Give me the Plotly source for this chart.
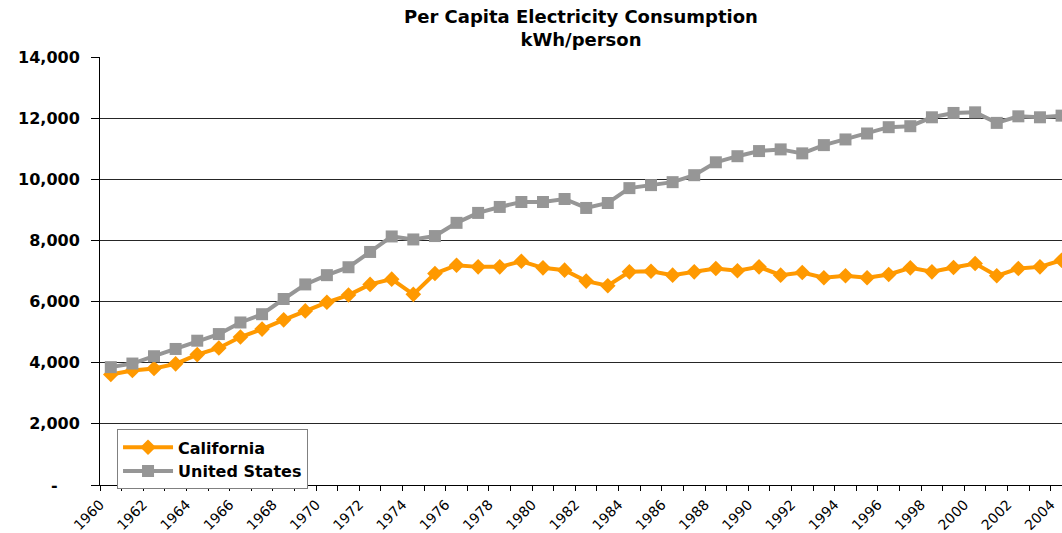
import plotly.graph_objects as go

# ---- data ----
years = list(range(1960, 2005))

california = [3615, 3745, 3810, 3963, 4265, 4482, 4840, 5100, 5402, 5695,
              5976, 6214, 6561, 6734, 6236, 6918, 7189, 7135, 7135, 7319,
              7103, 7027, 6669, 6518, 6973, 6994, 6864, 6973, 7081, 7010,
              7135, 6864, 6951, 6778, 6843, 6778, 6886, 7103, 6973, 7113,
              7243, 6843, 7081, 7135, 7351]

united_states = [3855, 3973, 4212, 4450, 4720, 4937, 5316, 5587, 6084, 6561,
                 6864, 7123, 7623, 8130, 8032, 8143, 8575, 8900, 9095, 9257,
                 9257, 9355, 9062, 9224, 9711, 9809, 9906, 10134, 10556, 10755,
                 10923, 10978, 10848, 11118, 11303, 11498, 11704, 11736, 12028, 12170,
                 12190, 11845, 12060, 12028, 12082]

y_ticks = [0, 2000, 4000, 6000, 8000, 10000, 12000, 14000]
y_ticktext = ["-\u00a0\u00a0\u00a0\u00a0", "2,000", "4,000", "6,000", "8,000",
              "10,000", "12,000", "14,000"]

x_ticks = list(range(1960, 2006))
x_ticktext = [str(y) if y % 2 == 0 else "" for y in x_ticks]

title_text = "Per Capita Electricity Consumption<br>kWh/person"

# categories sit midway between year tick marks (Excel category axis)
x_pos = [y + 0.5 for y in years]

FONT = "DejaVu Sans"
ORANGE = "#FF9900"
GRAY = "#969696"

fig = go.Figure()
fig.add_trace(go.Scatter(
    x=x_pos, y=california, name="California", mode="lines+markers",
    line=dict(color=ORANGE, width=4),
    marker=dict(symbol="diamond", size=12, color=ORANGE, line=dict(width=0)),
))
fig.add_trace(go.Scatter(
    x=x_pos, y=united_states, name="United States", mode="lines+markers",
    line=dict(color=GRAY, width=4),
    marker=dict(symbol="square", size=12, color=GRAY, line=dict(width=0)),
))

fig.update_layout(
    width=1062, height=533,
    margin=dict(l=100, r=0, t=57, b=45),
    paper_bgcolor="white", plot_bgcolor="white",
    font=dict(family=FONT, color="black"),
    showlegend=True,
    legend=dict(x=0.0177, y=0.13, xanchor="left", yanchor="top",
                bgcolor="white", bordercolor="#808080", borderwidth=1,
                font=dict(family=FONT, size=16, weight="bold", color="black"),
                tracegroupgap=0, itemwidth=50),
    annotations=[dict(
        text=title_text, xref="paper", yref="paper", x=0.5, y=1.124,
        xanchor="center", yanchor="top", showarrow=False, align="center",
        font=dict(family=FONT, size=18, weight="bold", color="black"),
    )],
)

fig.update_xaxes(
    range=[1960, 2004.52],
    tickmode="array", tickvals=x_ticks, ticktext=x_ticktext,
    tickangle=-45, tickfont=dict(family=FONT, size=14, color="black"),
    ticks="outside", ticklen=5, tickcolor="black", tickwidth=1,
    showline=True, linecolor="black", linewidth=1,
    showgrid=False, zeroline=False,
)
fig.update_yaxes(
    range=[0, 14000],
    tickmode="array", tickvals=y_ticks, ticktext=y_ticktext,
    tickfont=dict(family=FONT, size=16, weight="bold", color="black"),
    ticks="outside", ticklen=8, tickcolor="black", tickwidth=1,
    ticklabelstandoff=8,
    showline=True, linecolor="black", linewidth=1,
    showgrid=True, gridcolor="#262626", gridwidth=1,
    zeroline=False,
)

fig.write_html("out.html", config={"displayModeBar": False},
               post_script="document.body.style.margin='0';")
